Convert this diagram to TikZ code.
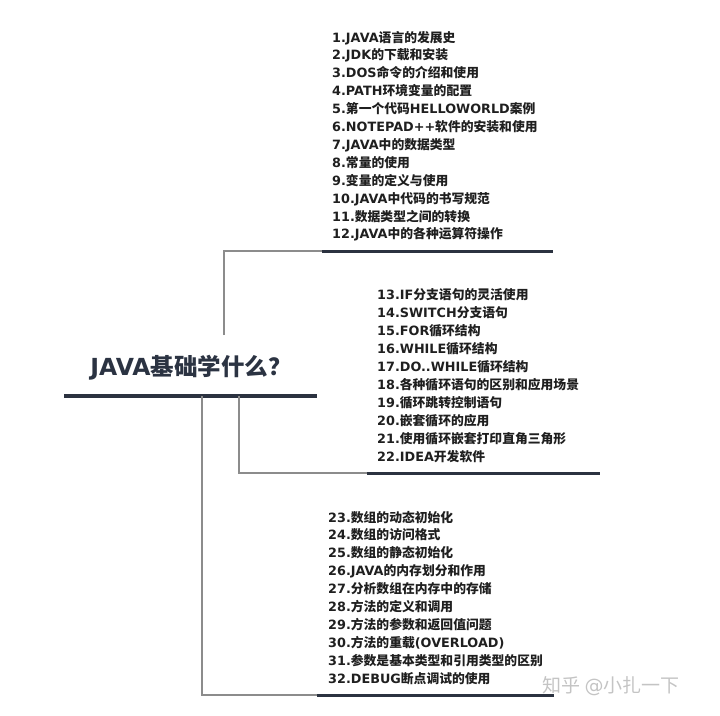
\documentclass[tikz,border=0pt]{standalone}
\usepackage{fontspec}
\usepackage{tikz}
\setmainfont{DejaVu Sans}
\newfontfamily\cjkfont{Noto Sans CJK SC}
\newfontfamily\latinfont{DejaVu Sans}
% Chinese characters switch to the CJK font by themselves
\XeTeXinterchartokenstate=1
\newXeTeXintercharclass\cjkclass
\count255="3000
\loop\ifnum\count255<"A000 \XeTeXcharclass\count255=\cjkclass \advance\count255 by 1 \repeat
\count255="FF00
\loop\ifnum\count255<"FFF0 \XeTeXcharclass\count255=\cjkclass \advance\count255 by 1 \repeat
\XeTeXinterchartoks 0 \cjkclass = {\cjkfont}
\XeTeXinterchartoks 4095 \cjkclass = {\cjkfont}
\XeTeXinterchartoks \cjkclass 0 = {\latinfont}
\XeTeXinterchartoks 4095 0 = {\latinfont}
\definecolor{barcolor}{HTML}{2B3240}
\definecolor{branchgray}{HTML}{8C8C8C}
\definecolor{itemtext}{HTML}{1F1F1F}
\definecolor{roottext}{HTML}{2B3342}
\definecolor{markgray}{HTML}{C4C4C4}
\begin{document}
\begin{tikzpicture}[x=1pt,y=-1pt,
    item/.style={anchor=base west,inner sep=0pt,text=itemtext,
      font=\bfseries\fontsize{12.8}{15}\selectfont},
    bar/.style={line width=3pt,draw=barcolor},
    branch/.style={line width=1.1pt,draw=branchgray}]
  \useasboundingbox (0,0) rectangle (720,715);
  % root
  \node[inner sep=0pt,text=roottext,font=\bfseries\fontsize{23.5}{23.5}\selectfont] (root) at (191,368) {JAVA基础学什么？};
  \coordinate (rl) at (64,396);
  \coordinate (rr) at (317,396);
  \draw[line width=4pt,draw=barcolor] (rl) -- (rr);
  % first group
  \foreach \txt [count=\i] in {1.JAVA语言的发展史,2.JDK的下载和安装,3.DOS命令的介绍和使用,
      4.PATH环境变量的配置,5.第一个代码HELLOWORLD案例,6.NOTEPAD++软件的安装和使用,
      7.JAVA中的数据类型,8.常量的使用,9.变量的定义与使用,10.JAVA中代码的书写规范,
      11.数据类型之间的转换,12.JAVA中的各种运算符操作}
    \node[item] (a\i) at (332,{42+(\i-1)*17.9}) {\txt};
  % second group
  \foreach \txt [count=\i] in {13.IF分支语句的灵活使用,14.SWITCH分支语句,15.FOR循环结构,
      16.WHILE循环结构,17.DO..WHILE循环结构,18.各种循环语句的区别和应用场景,
      19.循环跳转控制语句,20.嵌套循环的应用,21.使用循环嵌套打印直角三角形,22.IDEA开发软件}
    \node[item] (b\i) at (377,{299+(\i-1)*18.1}) {\txt};
  % third group
  \foreach \txt [count=\i] in {23.数组的动态初始化,24.数组的访问格式,25.数组的静态初始化,
      26.JAVA的内存划分和作用,27.分析数组在内存中的存储,28.方法的定义和调用,
      29.方法的参数和返回值问题,30.方法的重载(OVERLOAD),31.参数是基本类型和引用类型的区别,
      32.DEBUG断点调试的使用}
    \node[item] (c\i) at (328,{522+(\i-1)*17.9}) {\txt};
  % bars under the groups
  \coordinate (s1) at (322,251);
  \coordinate (e1) at (553,251);
  \coordinate (s2) at (367,473);
  \coordinate (e2) at (600,473);
  \coordinate (s3) at (317,695);
  \coordinate (e3) at (554,695);
  \draw[bar] (s1) -- (e1);
  \draw[bar] (s2) -- (e2);
  \draw[bar] (s3) -- (e3);
  % branches
  \coordinate (k1) at (224,335);
  \coordinate (k2) at (239,396);
  \coordinate (k3) at (202,396);
  \draw[branch] (k1) |- (s1);
  \draw[branch] (k2) |- (s2);
  \draw[branch] (k3) |- (s3);
  \node[text=markgray,font=\fontsize{19}{19}\selectfont] (mark) at (611,686) {知乎 @小扎一下};
\end{tikzpicture}
\end{document}
